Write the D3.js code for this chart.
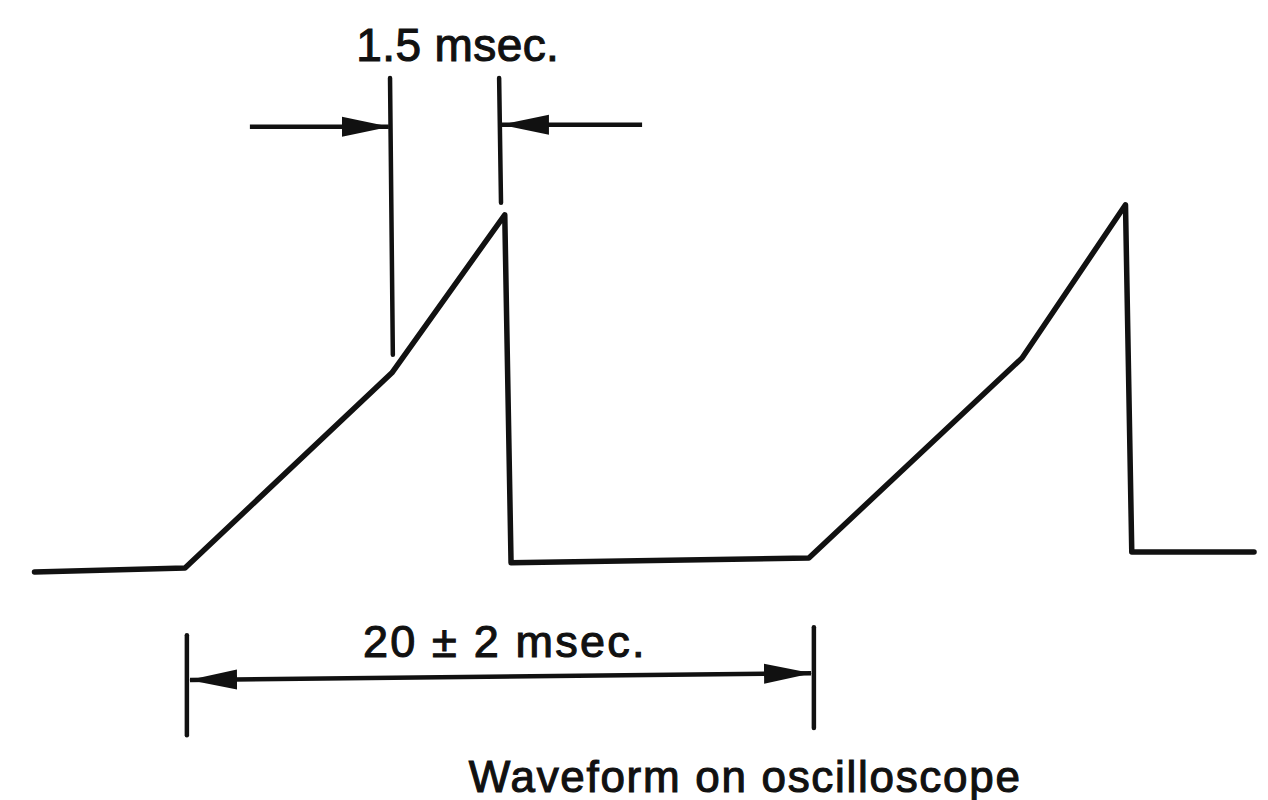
<!DOCTYPE html>
<html>
<head>
<meta charset="utf-8">
<script src="https://cdn.jsdelivr.net/npm/d3@7"></script>
<style>
  html, body { margin: 0; padding: 0; background: #fff; }
  svg { display: block; }
  text { font-family: "Liberation Sans", Arial, Helvetica, sans-serif; fill: #111; stroke: #111; stroke-width: 1.1px; }
</style>
</head>
<body>
<div id="chart"></div>
<script>
const width = 1268;
const height = 800;

// waveform trace: time in ms (0 = start of ramp), level in % of screen
const traceTime = [-4.8, 0, 6.6, 10.2, 10.4, 19.9, 26.7, 30.0, 30.2, 34.1];
const traceLevel = [2, 3, 51.8, 91.3, 4.3, 5.5, 55.5, 93.8, 7, 7];

// dimension marks (time ms, level %)
const extLines = [
    { t1: 6.54, l1: 125.5, t2: 6.63, l2: 56.3 },   // 1.5 msec left
    { t1: 10.02, l1: 125.5, t2: 10.08, l2: 94.3 }, // 1.5 msec right
    { t1: 0.06, l1: -13.8, t2: 0.06, l2: -38.8 },  // period left
    { t1: 20.06, l1: -11.8, t2: 20.06, l2: -37 }   // period right
];
const arrows = [
    { t1: 2.07, l1: 113.3, t2: 6.5, l2: 113.3, ends: "end" },
    { t1: 14.58, l1: 113.8, t2: 10.11, l2: 113.8, ends: "end" },
    { t1: 0.16, l1: -25, t2: 19.97, l2: -23.3, ends: "both" }
];
const labels = [
    { text: "1.5 msec.", t: 8.7, l: 129.8, size: 46, spacing: 0.4 },
    { text: "20 \u00b1 2 msec.", t: 10.2, l: -19.3, size: 45, spacing: 2.2 },
    { text: "Waveform on oscilloscope", t: 17.87, l: -53, size: 44, spacing: 1.7 }
];

const x = d3.scaleLinear().domain([0, 20]).range([185, 812]);
const y = d3.scaleLinear().domain([0, 100]).range([580, 180]);

const svg = d3.select("#chart").append("svg")
    .attr("width", width)
    .attr("height", height);

// long narrow arrowheads like the drawing
const defs = svg.append("defs");
defs.append("marker")
    .attr("id", "head")
    .attr("markerUnits", "userSpaceOnUse")
    .attr("viewBox", "0 -11 48 22")
    .attr("refX", 47)
    .attr("refY", 0)
    .attr("markerWidth", 48)
    .attr("markerHeight", 22)
    .attr("orient", "auto-start-reverse")
    .append("path")
    .attr("d", "M0,-10 L48,0 L0,10 Z")
    .attr("fill", "#111");

const traceData = traceTime.map((t, i) => ({ t: t, l: traceLevel[i] }));

const line = d3.line()
    .x(d => x(d.t))
    .y(d => y(d.l));

svg.append("path")
    .datum(traceData)
    .attr("d", line)
    .attr("fill", "none")
    .attr("stroke", "#111")
    .attr("stroke-width", 5.5)
    .attr("stroke-linejoin", "round")
    .attr("stroke-linecap", "round");

// extension lines
svg.selectAll(".ext")
    .data(extLines)
    .enter()
    .append("line")
    .attr("class", "ext")
    .attr("x1", d => x(d.t1))
    .attr("y1", d => y(d.l1))
    .attr("x2", d => x(d.t2))
    .attr("y2", d => y(d.l2))
    .attr("stroke", "#111")
    .attr("stroke-width", 4.5)
    .attr("stroke-linecap", "round");

// arrows
svg.selectAll(".arrow")
    .data(arrows)
    .enter()
    .append("line")
    .attr("class", "arrow")
    .attr("x1", d => x(d.t1))
    .attr("y1", d => y(d.l1))
    .attr("x2", d => x(d.t2))
    .attr("y2", d => y(d.l2))
    .attr("stroke", "#111")
    .attr("stroke-width", 4.5)
    .attr("marker-end", "url(#head)")
    .attr("marker-start", d => d.ends === "both" ? "url(#head)" : null);

svg.selectAll(".label")
    .data(labels)
    .enter()
    .append("text")
    .attr("class", "label")
    .attr("x", d => x(d.t))
    .attr("y", d => y(d.l))
    .attr("text-anchor", "middle")
    .style("font-size", d => d.size + "px")
    .style("letter-spacing", d => d.spacing + "px")
    .text(d => d.text);
</script>
</body>
</html>
